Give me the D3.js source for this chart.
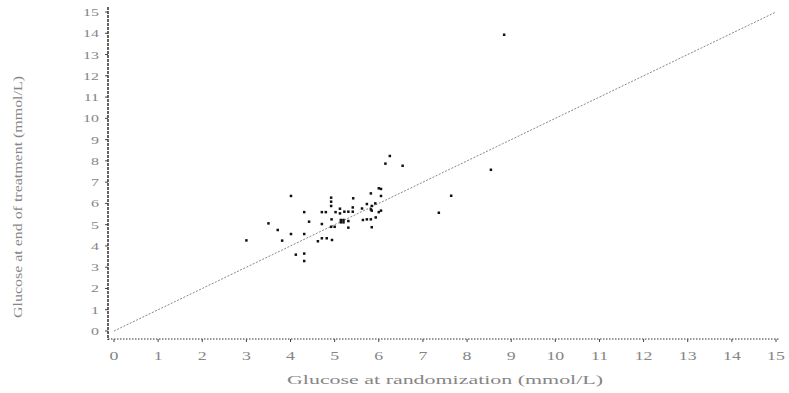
<!DOCTYPE html>
<html><head><meta charset="utf-8">
<script src="https://cdn.jsdelivr.net/npm/d3@7"></script>
<style>body{margin:0;background:#fff}svg{display:block}</style>
</head><body>
<svg id="c" width="789" height="393"></svg>
<script>
const xTicks = d3.range(0, 16);
const yTicks = d3.range(0, 16);
const xLabel = "Glucose at randomization (mmol/L)";
const yLabel = "Glucose at end of treatment (mmol/L)";
const lineOfIdentity = [[0, 0], [15, 15]];
const glucoseRandomization = [3.0,3.5,3.71,3.81,4.01,4.01,4.12,4.31,4.42,4.31,4.31,4.31,4.62,4.71,4.71,4.71,4.80,4.82,4.92,4.92,4.92,4.93,4.92,4.94,5.0,5.02,5.12,5.12,5.14,5.2,5.14,5.2,5.22,5.31,5.31,5.31,5.41,5.42,5.41,5.62,5.64,5.73,5.73,5.82,5.82,5.82,5.84,5.84,5.84,5.92,5.93,6.0,6.0,6.05,6.05,6.05,6.15,6.25,6.54,7.36,7.64,8.54,8.84];
const glucoseEndTreatment = [4.26,5.06,4.75,4.25,6.35,4.56,3.59,5.59,5.14,4.56,3.64,3.29,4.22,5.59,5.03,4.36,5.59,4.36,6.27,6.08,5.88,5.25,4.9,4.28,4.9,5.59,5.75,5.53,5.22,5.22,5.11,5.11,5.61,5.61,5.17,4.86,5.61,6.24,5.81,5.76,5.22,5.97,5.25,6.47,5.72,5.25,4.88,5.88,5.66,6.0,5.34,6.71,5.59,6.68,6.35,5.66,7.87,8.23,7.77,5.56,6.36,7.58,13.93];

const svg = d3.select("#c");
const x = d3.scaleLinear().domain([0, 15]).range([114, 776]);
const y = d3.scaleLinear().domain([0, 15]).range([331, 12]);
const font = "'Liberation Serif','DejaVu Serif',serif";
const textCol = "#858585";

// X axis (offset below plot)
const xAxisY = 339;
const gx = svg.append("g").attr("transform", `translate(0,${xAxisY})`);
gx.append("line").attr("x1", 108).attr("x2", 780).attr("y1", 0).attr("y2", 0)
  .attr("stroke", "#333").attr("stroke-dasharray", "1.5,1.5");
gx.selectAll("line.t").data(xTicks).join("line").attr("class", "t")
  .attr("x1", d => x(d)).attr("x2", d => x(d)).attr("y1", 0).attr("y2", 3)
  .attr("stroke", "#444");
gx.selectAll("text").data(xTicks).join("text")
  .attr("transform", d => `translate(${x(d)},21) scale(1.55,1)`)
  .attr("text-anchor", "middle")
  .attr("font-family", font).attr("font-size", 11.5).attr("fill", textCol).text(d => d);

// Y axis (offset left)
const yAxisX = 108;
const gy = svg.append("g").attr("transform", `translate(${yAxisX},0)`);
gy.append("line").attr("x1", 0).attr("x2", 0).attr("y1", 7).attr("y2", 340)
  .attr("stroke", "#111").attr("stroke-width", 1.3).attr("stroke-dasharray", "3,1");
gy.selectAll("line.t").data(yTicks).join("line").attr("class", "t")
  .attr("x1", -3).attr("x2", 0).attr("y1", d => y(d)).attr("y2", d => y(d))
  .attr("stroke", "#444");
gy.selectAll("text").data(yTicks).join("text")
  .attr("transform", d => `translate(-9,${y(d) + 4}) scale(1.45,1)`)
  .attr("text-anchor", "end")
  .attr("font-family", font).attr("font-size", 11).attr("fill", textCol).text(d => d);

// identity line
svg.append("path").datum(lineOfIdentity)
  .attr("d", d3.line().x(d => x(d[0])).y(d => y(d[1])))
  .attr("stroke", "#888").attr("stroke-width", 1).attr("stroke-dasharray", "2,1.5").attr("fill", "none");

// points
svg.append("g").selectAll("rect").data(glucoseRandomization.map((v, i) => [v, glucoseEndTreatment[i]]))
  .join("rect")
  .attr("x", d => x(d[0]) - 1.25).attr("y", d => y(d[1]) - 1.25)
  .attr("width", 2.5).attr("height", 2.5).attr("fill", "#111");

// axis titles
svg.append("text").attr("x", 445).attr("y", 384).attr("text-anchor", "middle")
  .attr("textLength", 316).attr("lengthAdjust", "spacingAndGlyphs")
  .attr("font-family", font).attr("font-size", 13).attr("fill", textCol).text(xLabel);
svg.append("text").attr("transform", "translate(22,197) rotate(-90)").attr("text-anchor", "middle")
  .attr("textLength", 242).attr("lengthAdjust", "spacingAndGlyphs")
  .attr("font-family", font).attr("font-size", 13).attr("fill", textCol).text(yLabel);
</script>
</body></html>
